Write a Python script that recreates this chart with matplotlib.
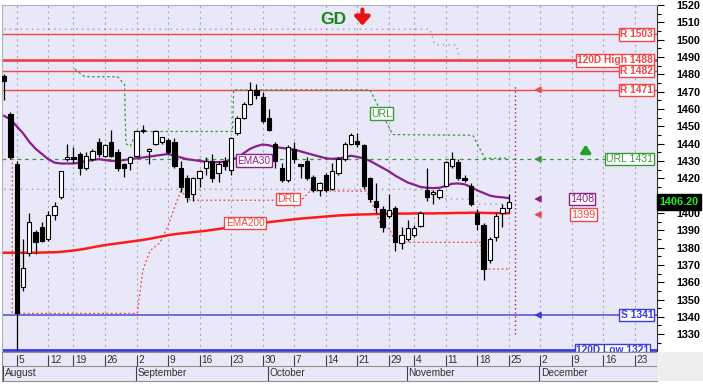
import numpy as np
import pandas as pd
import matplotlib
matplotlib.use('Agg')
import matplotlib.pyplot as plt
from matplotlib.patches import Rectangle
from matplotlib.transforms import blended_transform_factory

# trading calendar (exchange closed 15 Aug and 28 Oct)
days = pd.bdate_range('2013-08-01', '2013-12-31')
days = days[~days.isin(pd.to_datetime(['2013-08-15', '2013-10-28']))]

# daily candles, 1 Aug .. 25 Nov
opens = [1479, 1457, 1428, 1357, 1377, 1389, 1392, 1385, 1399, 1409,
         1431, 1432, 1434, 1426, 1431, 1441, 1433, 1441, 1435, 1428,
         1429, 1433, 1447, 1436, 1440, 1441, 1442, 1441, 1426, 1420,
         1411, 1420, 1426, 1430, 1423, 1430, 1425, 1446, 1455, 1463,
         1471, 1467, 1455, 1440, 1426, 1419, 1437, 1428, 1430, 1420.5,
         1413, 1422, 1414, 1423, 1431, 1440, 1441.5, 1439, 1420, 1407,
         1402, 1398, 1403, 1382.5, 1385, 1387.5, 1392.5, 1413.5, 1411, 1409,
         1415.5, 1427, 1429.5, 1420, 1415.5, 1400, 1393, 1373, 1386, 1400,
         1403]
highs = [1480, 1458, 1430, 1385, 1400, 1390, 1395, 1401, 1406, 1424,
         1440, 1438, 1435, 1435, 1437, 1443, 1440, 1448, 1437, 1429,
         1433, 1448, 1451, 1437.5, 1448, 1444, 1443, 1443, 1430, 1422,
         1421, 1425, 1432, 1434, 1430, 1432, 1444, 1456, 1464, 1475.5,
         1474.5, 1470, 1460, 1441, 1429, 1439, 1441, 1428.5, 1432, 1422,
         1418, 1423, 1429, 1432, 1441, 1446, 1446, 1440, 1421, 1417,
         1404, 1411, 1404, 1392, 1396, 1393, 1401, 1426, 1413, 1414,
         1430, 1435, 1431, 1422, 1417, 1402, 1394, 1386, 1400, 1405,
         1410.7]
lows = [1465, 1431, 1321, 1355, 1375, 1376, 1383, 1384, 1396, 1408,
        1430, 1429, 1422, 1425, 1430, 1432, 1432, 1432, 1424, 1421,
        1425, 1432, 1446, 1428, 1439, 1440, 1434, 1426, 1412, 1406,
        1407, 1415, 1422, 1418, 1418, 1425, 1422, 1445, 1454, 1462,
        1466, 1452, 1447, 1426, 1418, 1418, 1429, 1420, 1419, 1412,
        1410, 1412, 1413, 1422, 1430, 1439, 1438, 1414, 1406, 1400,
        1389, 1397, 1378, 1379, 1384, 1386, 1392, 1407, 1405, 1408,
        1415, 1426, 1419, 1418, 1404, 1390, 1361, 1371, 1384, 1392,
        1400]
closes = [1476, 1432, 1342, 1368, 1395, 1383, 1384, 1399, 1404, 1424,
          1432, 1431, 1426, 1433, 1436, 1434, 1439, 1433, 1426, 1426,
          1432, 1447, 1447.5, 1437, 1447, 1444, 1435, 1427, 1415, 1409,
          1420, 1424, 1430, 1420, 1428, 1427, 1443, 1455, 1463, 1471,
          1468, 1453, 1448, 1430, 1419, 1438, 1431, 1427, 1420, 1413,
          1417, 1413, 1424, 1431, 1440, 1445, 1440, 1415.5, 1408, 1403.5,
          1392, 1401.5, 1383, 1387, 1391, 1391.5, 1400, 1409, 1412, 1413.5,
          1429.5, 1431, 1420, 1419, 1405, 1393.5, 1367.5, 1385, 1398, 1403,
          1406.2]

ema30 = [1456, 1454, 1450, 1446, 1441, 1437, 1434, 1431, 1429, 1428.5,
         1428.5, 1428.5, 1429, 1430, 1430.5, 1431, 1430.5, 1430, 1430, 1430.5,
         1431, 1431.5, 1432, 1432.5, 1433, 1433.5, 1434, 1433, 1432, 1431,
         1430.5, 1430, 1429.5, 1429.3, 1429.3, 1429.5, 1430.5, 1432, 1434.5, 1437,
         1438.5, 1439.5, 1439, 1438, 1437.5, 1437, 1436.5, 1435.5, 1434.5, 1433.5,
         1432.5, 1431.5, 1431.2, 1431.5, 1432, 1433, 1432.3, 1431.5, 1430, 1428,
         1426, 1424, 1421.5, 1419.5, 1417.5, 1416.3, 1415, 1414.5, 1414.3, 1414.5,
         1415.5, 1416.8, 1417, 1416.5, 1415, 1413, 1411.5, 1410, 1409.3, 1409,
         1408.5]
ema200 = [1377.0, 1377.0, 1377.0, 1377.0, 1377.0, 1377.0, 1377.1, 1377.2, 1377.3, 1377.5,
          1377.9, 1378.3, 1378.8, 1379.4, 1380.1, 1380.8, 1381.4, 1381.9, 1382.4, 1382.9,
          1383.4, 1383.9, 1384.4, 1385.0, 1385.7, 1386.4, 1387.1, 1387.7, 1388.1, 1388.5,
          1388.9, 1389.3, 1389.7, 1390.2, 1390.7, 1391.2, 1391.7, 1392.2, 1392.7, 1393.2,
          1393.7, 1394.2, 1394.7, 1395.1, 1395.5, 1395.9, 1396.3, 1396.7, 1397.0, 1397.3,
          1397.6, 1397.9, 1398.2, 1398.5, 1398.7, 1398.9, 1399.0, 1399.1, 1399.2, 1399.3,
          1399.4, 1399.5, 1399.6, 1399.6, 1399.6, 1399.7, 1399.7, 1399.7, 1399.7, 1399.8,
          1399.8, 1399.9, 1400.0, 1400.0, 1400.1, 1400.1, 1400.0, 1399.9, 1399.9, 1399.8,
          1399.8]

# stepped trend lines: (bar index, price)
url_x = [11.2, 12.8, 18.0, 19.1, 19.3, 20.0, 21.0, 36.2, 36.4, 58.0, 61.6, 74.3, 76.2, 80.0]
url_y = [1483, 1478.6, 1478.6, 1474, 1440, 1438.5, 1447, 1447, 1471, 1471, 1445.2, 1444.8, 1431.5, 1431.5]
drl_x = [1.3, 1.3, 21.1, 22.0, 23.1, 24.7, 26.0, 27.1, 28.0, 29.5, 43.0, 47.3, 48.5, 57.5, 60.0, 61.1, 62.0, 75.6, 75.8, 80.0]
drl_y = [1431.6, 1342, 1342, 1366.7, 1378, 1382.8, 1392.5, 1404, 1412.6, 1407.3, 1407.3, 1408, 1412.6, 1412.6, 1391, 1391, 1383, 1383, 1367.6, 1367.6]
top_x = [0, 67.5, 68.3, 71.7, 72.2, 80.0]
top_y = [1506, 1506, 1497, 1497, 1488.7, 1488.7]
mid_x = [0, 67.6, 69.6, 73.9, 73.9, 80.4]
mid_y = [1413.6, 1413.6, 1408, 1408, 1405, 1405]

levels = [1503, 1488, 1482, 1471, 1341, 1321]
level_labels = ['R 1503', '120D High 1488', 'R 1482', 'R 1471', 'S 1341', '120D Low 1321']
url_level = 1431
last_price = 1406.20

RED = '#f04848'
BLUE = '#3c3cd8'
GREEN = '#3a9a3a'
PURPLE = '#8a1e8a'
BG = '#e8e8f8'

plt.rcParams['font.family'] = ['Liberation Sans', 'DejaVu Sans']

fig = plt.figure(figsize=(7.03, 3.87), dpi=100)
W, H = 703.0, 387.0
ax = fig.add_axes([2 / W, 1 - 352 / H, 655 / W, 347 / H])
ax.set_facecolor(BG)
xs = np.arange(len(closes))
XL = (-0.33, 103.5)
ax.set_xlim(XL)
ax.set_ylim(1319.7, 1518.6)

# week grid
wk = pd.Series(days).groupby(days.isocalendar().week.values).first()
week_pos = [days.get_loc(d) for d in wk if d > days[0] and days.get_loc(d) < XL[1]]
for p in week_pos:
    ax.axvline(p, color='#a8a8c0', lw=0.8, ls=(0, (2, 3)), zorder=1)

# levels
for lv, lab in zip(levels, level_labels):
    col = RED if lv > 1400 else BLUE
    lw = 2.0 if 'D ' in lab else 1.0
    if lab == 'S 1341':
        col = '#5a5ad0'
        lw = 1.2
    ax.axhline(lv, color=col, lw=lw, zorder=2)
ax.axhline(url_level, color=GREEN, lw=0.9, ls=(0, (3, 3)), xmax=0.95, zorder=2)

ax.plot(top_x, top_y, color='#9a9ab0', lw=1.0, ls=(0, (1, 3)), zorder=2)
ax.plot(mid_x, mid_y, color='#9a9ab0', lw=1.0, ls=(0, (1, 3)), zorder=2)
ax.plot(url_x, url_y, color=GREEN, lw=0.9, ls=(0, (2, 2)), zorder=2)
ax.plot(drl_x, drl_y, color=RED, lw=0.9, ls=(0, (1.5, 2)), zorder=2)

ax.plot(xs, ema200, color='#ff1a1a', lw=1.8, zorder=3)
ax.plot(xs, ema30, color=PURPLE, lw=1.6, zorder=3)

# candles
o = np.array(opens); c = np.array(closes)
ax.vlines(xs, lows, highs, color='black', lw=0.9, zorder=4)
up = c >= o
bot = np.minimum(o, c)
hgt = np.maximum(np.abs(c - o), 0.6)
ax.bar(xs[up], hgt[up], bottom=bot[up], width=0.68, color='white', edgecolor='black', lw=0.8, zorder=5)
ax.bar(xs[~up], hgt[~up], bottom=bot[~up], width=0.68, color='black', edgecolor='black', lw=0.8, zorder=5)

# today marker
nxt = len(closes)
ax.vlines(nxt, 1330, 1473, color=PURPLE, lw=1.0, ls=(0, (1, 2)), zorder=3)

# arrows at the right
for yv, col in [(1471, RED), (1431, GREEN), (1408, PURPLE), (1399, RED), (1341, BLUE)]:
    ax.annotate('', xy=(nxt + 2.6, yv), xytext=(nxt + 4.3, yv),
                arrowprops=dict(arrowstyle='-|>,head_length=0.35,head_width=0.18', color=col, lw=1.2), zorder=6)
ax.annotate('', xy=(nxt + 11.2, 1441), xytext=(nxt + 11.2, 1432.5),
            arrowprops=dict(arrowstyle='-|>,head_length=0.45,head_width=0.3', color='#22a022', lw=2.2), zorder=6)

# labels
tr = blended_transform_factory(ax.transAxes, ax.transData)
def box(x, y, s, col, bold=False, trans=None, ha='center', fs=7):
    ax.text(x, y, s, color=col, fontsize=fs, fontweight='bold' if bold else 'normal',
            ha=ha, va='center', transform=trans if trans else ax.transData, zorder=8,
            bbox=dict(boxstyle='square,pad=0.12', fc='white', ec=col, lw=1.0))

for lv, lab in zip(levels, level_labels):
    col = RED if lv > 1400 else BLUE
    xr = 0.994 if lab != '120D Low 1321' else 0.988
    box(xr, lv, lab, col, bold=True, trans=tr, ha='right', fs=7.4)
box(0.994, url_level, 'URL %d' % url_level, GREEN, trans=tr, ha='right', fs=7.6)
box(91.6, 1408, '1408', PURPLE, fs=7.8)
box(91.8, 1399, '1399', RED, fs=7.8)
box(39.6, 1430.2, 'EMA30', PURPLE, fs=7.2)
box(45.0, 1408, 'DRL', RED, fs=7.6)
box(38.2, 1394.3, 'EMA200', RED, fs=7.2)
box(59.8, 1457.3, 'URL', GREEN, fs=7.6)

ax.text(52.2, 1511.5, 'GD', color='#118811', fontsize=12.5, fontweight='bold', ha='center', va='center', zorder=8)
ax.annotate('', xy=(56.8, 1506.5), xytext=(56.8, 1519),
            arrowprops=dict(arrowstyle='-|>,head_length=0.5,head_width=0.45', color='#ee1111', lw=3.0),
            annotation_clip=False, zorder=8)

# y axis on the right
ax.yaxis.tick_right()
yt = np.arange(1330, 1521, 10)
ax.set_yticks(yt)
ax.set_yticklabels(['' if v == 1410 else str(v) for v in yt])
ax.set_yticks(np.arange(1325, 1520, 5), minor=True)
ax.tick_params(axis='y', which='major', length=5, width=0.8, labelsize=7.8, pad=9, colors='black')
ax.tick_params(axis='y', which='minor', length=3, width=0.8)
for t in ax.get_yticklabels():
    t.set_fontweight('bold')
ax.set_xticks([])
for s in ['top', 'left', 'bottom']:
    ax.spines[s].set_color('#b0b0c0')
ax.spines['right'].set_color('#303030')

ax.text(1.004, last_price, '%.2f' % last_price, transform=tr, color='#22ee22', fontsize=7.8,
        fontweight='bold', ha='left', va='center', zorder=9,
        bbox=dict(boxstyle='square,pad=0.25', fc='black', ec='black'))

# date panel
fig.patches.append(Rectangle((657 / W, 1 - 381 / H), 46 / W, 29 / H, transform=fig.transFigure,
                             fc='#eeeeee', ec='none', zorder=0))
ax2 = fig.add_axes([2 / W, 1 - 381 / H, 655 / W, 29 / H])
ax2.set_facecolor(BG)
ax2.set_xlim(XL)
ax2.set_ylim(0, 29)
ax2.set_xticks([]); ax2.set_yticks([])
for s in ax2.spines.values():
    s.set_color('#909090')
ax2.axhline(15, color='#909090', lw=0.8)
for p in week_pos:
    ax2.vlines(p, 15, 26, color='#404040', lw=0.8)
    ax2.text(p + 0.25, 21, str(days[p].day), fontsize=7.3, color='#303030', ha='left', va='center')
mon = pd.Series(days).groupby(days.month.values).first()
for d in mon:
    p = days.get_loc(d) - 0.15
    if p > XL[1]:
        continue
    ax2.vlines(p, 0, 15, color='#404040', lw=0.8)
    ax2.text(p + 0.25, 7.5, d.strftime('%B'), fontsize=7.3, color='#303030', ha='left', va='center')

fig.savefig('out.png', dpi=100)
